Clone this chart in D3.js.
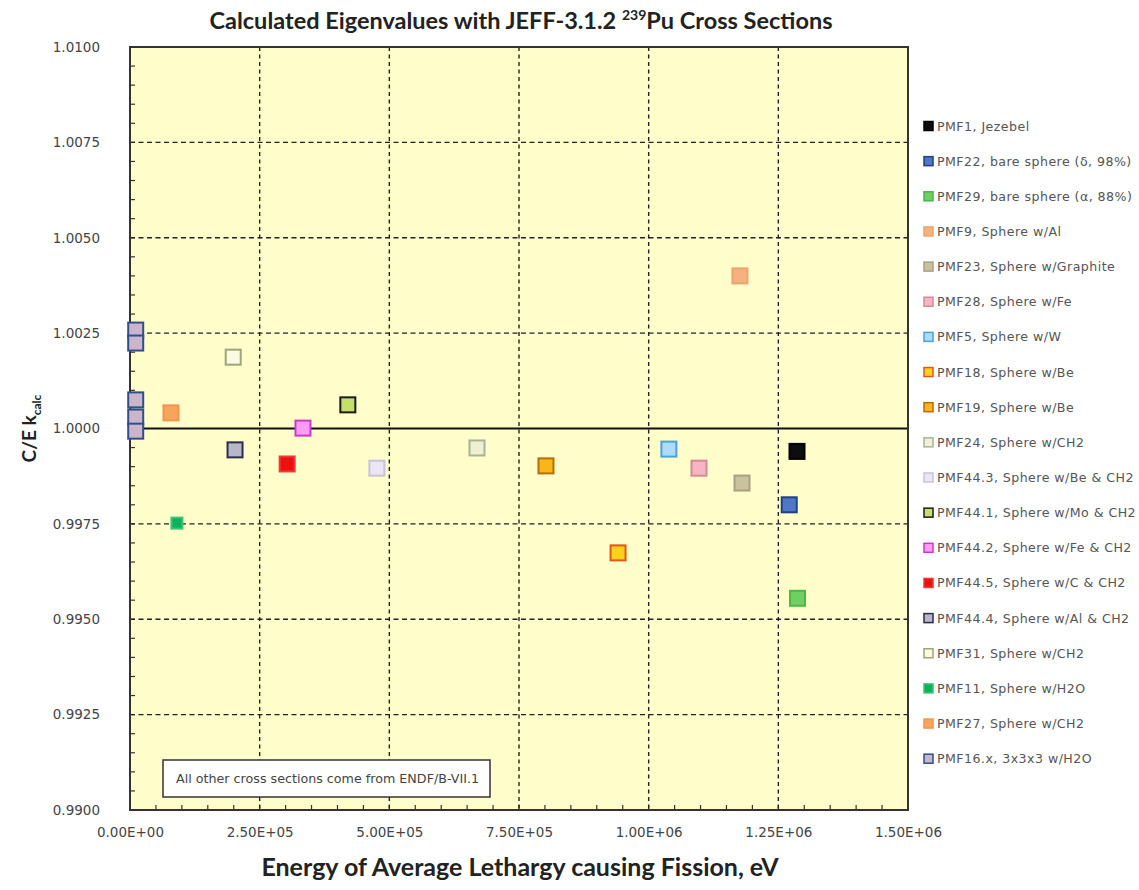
<!DOCTYPE html>
<html>
<head>
<meta charset="utf-8">
<script src="https://cdn.jsdelivr.net/npm/d3@7/dist/d3.min.js"></script>
<style>
  html, body { margin: 0; padding: 0; background: #ffffff; }
  svg { display: block; }
</style>
</head>
<body>
<svg id="chart" width="1139" height="890"></svg>
<script>
// Benchmark series shown in the legend (in legend order)
const seriesLabels = [
  "PMF1, Jezebel",
  "PMF22, bare sphere (δ, 98%)",
  "PMF29, bare sphere (α, 88%)",
  "PMF9, Sphere w/Al",
  "PMF23, Sphere w/Graphite",
  "PMF28, Sphere w/Fe",
  "PMF5, Sphere w/W",
  "PMF18, Sphere w/Be",
  "PMF19, Sphere w/Be",
  "PMF24, Sphere w/CH2",
  "PMF44.3, Sphere w/Be & CH2",
  "PMF44.1, Sphere w/Mo & CH2",
  "PMF44.2, Sphere w/Fe & CH2",
  "PMF44.5, Sphere w/C & CH2",
  "PMF44.4, Sphere w/Al & CH2",
  "PMF31, Sphere w/CH2",
  "PMF11, Sphere w/H2O",
  "PMF27, Sphere w/CH2",
  "PMF16.x, 3x3x3 w/H2O"
];

// Each calculated point: series index, energy (eV), C/E k_calc
const pointSeries = [0, 1, 2, 3, 4, 5, 6, 7, 8, 9, 10, 11, 12, 13, 14, 15, 16, 17, 18, 18, 18, 18, 18];
const pointEnergy = [1.286e6, 1.271e6, 1.287e6, 1.176e6, 1.180e6, 1.097e6, 1.039e6, 0.941e6, 0.802e6,
                     0.669e6, 0.476e6, 0.420e6, 0.3335e6, 0.303e6, 0.2025e6, 0.199e6, 0.0905e6, 0.079e6,
                     1.1e4, 1.1e4, 1.1e4, 1.1e4, 1.1e4];
const pointRatio  = [0.9994, 0.9980, 0.99555, 1.0040, 0.99857, 0.99896, 0.99946, 0.99674, 0.99902,
                     0.99949, 0.99896, 1.00062, 1.00001, 0.99907, 0.99944, 1.00187, 0.99752, 1.00041,
                     1.00258, 1.00224, 1.00075, 1.00030, 0.99993];

// Axis ticks
const xTicks = [0, 2.5e5, 5e5, 7.5e5, 1e6, 1.25e6, 1.5e6];
const xTickLabels = ["0.00E+00", "2.50E+05", "5.00E+05", "7.50E+05", "1.00E+06", "1.25E+06", "1.50E+06"];
const yTicks = [0.99, 0.9925, 0.995, 0.9975, 1.0, 1.0025, 1.005, 1.0075, 1.01];
const yTickLabels = ["0.9900", "0.9925", "0.9950", "0.9975", "1.0000", "1.0025", "1.0050", "1.0075", "1.0100"];

// Marker appearance per series: fill, outline
const markerStyles = [
  { fill: "#0d0d0d", stroke: "#000000" },
  { fill: "#4f77c8", stroke: "#223f80" },
  { fill: "#6fcf60", stroke: "#48b84a" },
  { fill: "#f6b27e", stroke: "#e9a472" },
  { fill: "#c9c29c", stroke: "#a8a283" },
  { fill: "#f5b5c2", stroke: "#d48a98" },
  { fill: "#acdcf8", stroke: "#4aa2d6" },
  { fill: "#ffd21a", stroke: "#e2561a" },
  { fill: "#f7b718", stroke: "#b86e08" },
  { fill: "#eff0d6", stroke: "#a9b391" },
  { fill: "#ebe6f1", stroke: "#c9c3d9" },
  { fill: "#c6df6a", stroke: "#1b1b1b" },
  { fill: "#ff9cf7", stroke: "#c93ac9" },
  { fill: "#ee0f0f", stroke: "#f03a3a" },
  { fill: "#bab6c9", stroke: "#2b2d4a" },
  { fill: "#fbfbe3", stroke: "#9ea577" },
  { fill: "#0bb25a", stroke: "#3cc474" },
  { fill: "#f7a55b", stroke: "#f39550" },
  { fill: "#cbb5cb", stroke: "#2e4f8c" }
];

const svg = d3.select("#chart");
const plot = { left: 130, right: 908, top: 47, bottom: 810 };

const x = d3.scaleLinear().domain([0, 1.5e6]).range([plot.left, plot.right]);
const y = d3.scaleLinear().domain([0.99, 1.01]).range([plot.bottom, plot.top]);

// Plot background
svg.append("rect")
  .attr("x", plot.left).attr("y", plot.top)
  .attr("width", plot.right - plot.left).attr("height", plot.bottom - plot.top)
  .attr("fill", "#fffdca");

// Minor inward ticks
const minorX = d3.range(0, 1.5e6 + 1, 5e4);
const minorY = d3.range(0, 41).map(i => 0.99 + i * 0.0005);
svg.append("g").selectAll("line").data(minorX).join("line")
  .attr("x1", d => x(d)).attr("x2", d => x(d))
  .attr("y1", plot.bottom).attr("y2", plot.bottom - 5)
  .attr("stroke", "#333").attr("stroke-width", 1.2);
svg.append("g").selectAll("line").data(minorY).join("line")
  .attr("x1", plot.left).attr("x2", plot.left + 5)
  .attr("y1", d => y(d)).attr("y2", d => y(d))
  .attr("stroke", "#333").attr("stroke-width", 1.2);

// Dashed grid
const grid = svg.append("g");
grid.selectAll("line.vx").data(xTicks.slice(1, -1)).join("line")
  .attr("class", "vx")
  .attr("x1", d => x(d)).attr("x2", d => x(d))
  .attr("y1", plot.top).attr("y2", plot.bottom)
  .attr("stroke", "#222").attr("stroke-width", 1.4).attr("stroke-dasharray", "4,3.5");
grid.selectAll("line.hy").data(yTicks.filter(v => v > 0.99 && v < 1.01 && Math.abs(v - 1) > 1e-9)).join("line")
  .attr("class", "hy")
  .attr("x1", plot.left).attr("x2", plot.right)
  .attr("y1", d => y(d)).attr("y2", d => y(d))
  .attr("stroke", "#222").attr("stroke-width", 1.4).attr("stroke-dasharray", "5,3.5");

// Unity reference line
svg.append("line")
  .attr("x1", plot.left).attr("x2", plot.right)
  .attr("y1", y(1.0)).attr("y2", y(1.0))
  .attr("stroke", "#111").attr("stroke-width", 2.2);

// Plot frame
svg.append("rect")
  .attr("x", plot.left).attr("y", plot.top)
  .attr("width", plot.right - plot.left).attr("height", plot.bottom - plot.top)
  .attr("fill", "none").attr("stroke", "#333").attr("stroke-width", 2);

// Axes (labels only; ticks drawn above)
const xAxis = d3.axisBottom(x).tickValues(xTicks).tickFormat((d, i) => xTickLabels[i]).tickSize(0).tickPadding(17);
const yAxis = d3.axisLeft(y).tickValues(yTicks).tickFormat((d, i) => yTickLabels[i]).tickSize(0).tickPadding(30);
const gx = svg.append("g").attr("transform", `translate(0,${plot.bottom})`).call(xAxis);
const gy = svg.append("g").attr("transform", `translate(${plot.left},0)`).call(yAxis);
[gx, gy].forEach(g => {
  g.select(".domain").remove();
  g.selectAll("text").attr("font-family", "'DejaVu Sans', sans-serif").attr("font-size", 13.5).attr("fill", "#444");
});

// Data points
const pts = pointSeries.map((s, i) => ({ s, e: pointEnergy[i], r: pointRatio[i] }));
const size = 15;
svg.append("g").selectAll("rect").data(pts).join("rect")
  .attr("x", d => x(d.e) - (d.s === 16 ? 5.5 : size / 2))
  .attr("y", d => y(d.r) - (d.s === 16 ? 5.5 : size / 2))
  .attr("width", d => d.s === 16 ? 11 : size)
  .attr("height", d => d.s === 16 ? 11 : size)
  .attr("fill", d => markerStyles[d.s].fill)
  .attr("stroke", d => markerStyles[d.s].stroke)
  .attr("stroke-width", 2);

// Note box
const note = svg.append("g");
note.append("rect").attr("x", 163).attr("y", 760).attr("width", 327).attr("height", 37)
  .attr("fill", "#ffffff").attr("stroke", "#333").attr("stroke-width", 1.5);
note.append("text").attr("x", 176).attr("y", 783)
  .attr("font-family", "'DejaVu Sans', sans-serif").attr("font-size", 12.7).attr("fill", "#444")
  .text("All other cross sections come from ENDF/B-VII.1");

// Legend
const legend = svg.append("g").attr("transform", "translate(924,126)");
const rowH = 35.15;
const items = legend.selectAll("g").data(seriesLabels).join("g")
  .attr("transform", (d, i) => `translate(0,${i * rowH})`);
items.append("rect")
  .attr("x", 0).attr("y", -4.5).attr("width", 9).attr("height", 9)
  .attr("fill", (d, i) => markerStyles[i].fill)
  .attr("stroke", (d, i) => markerStyles[i].stroke)
  .attr("stroke-width", 1.5);
items.append("text")
  .attr("x", 13).attr("y", 4.5)
  .attr("font-family", "'DejaVu Sans', sans-serif").attr("font-size", 12.6).attr("letter-spacing", 0.45).attr("fill", "#555")
  .text(d => d);

// Title
const title = svg.append("text").attr("x", 521).attr("y", 29).attr("text-anchor", "middle")
  .attr("font-family", "Lato, sans-serif").attr("font-weight", "bold").attr("font-size", 23.5).attr("fill", "#222");
title.append("tspan").text("Calculated Eigenvalues with JEFF-3.1.2 ");
title.append("tspan").attr("font-size", 14).attr("dy", -9).text("239");
title.append("tspan").attr("dy", 9).text("Pu Cross Sections");

// Axis titles
svg.append("text").attr("x", 520).attr("y", 876).attr("text-anchor", "middle")
  .attr("font-family", "Lato, sans-serif").attr("font-weight", "bold").attr("font-size", 25).attr("fill", "#222")
  .text("Energy of Average Lethargy causing Fission, eV");

const yt = svg.append("text").attr("transform", `translate(36,${y(1.0)}) rotate(-90)`).attr("text-anchor", "middle")
  .attr("font-family", "Lato, sans-serif").attr("font-weight", "bold").attr("font-size", 19).attr("fill", "#222");
yt.append("tspan").text("C/E k");
yt.append("tspan").attr("font-size", 12).attr("dy", 5).text("calc");
</script>
</body>
</html>
